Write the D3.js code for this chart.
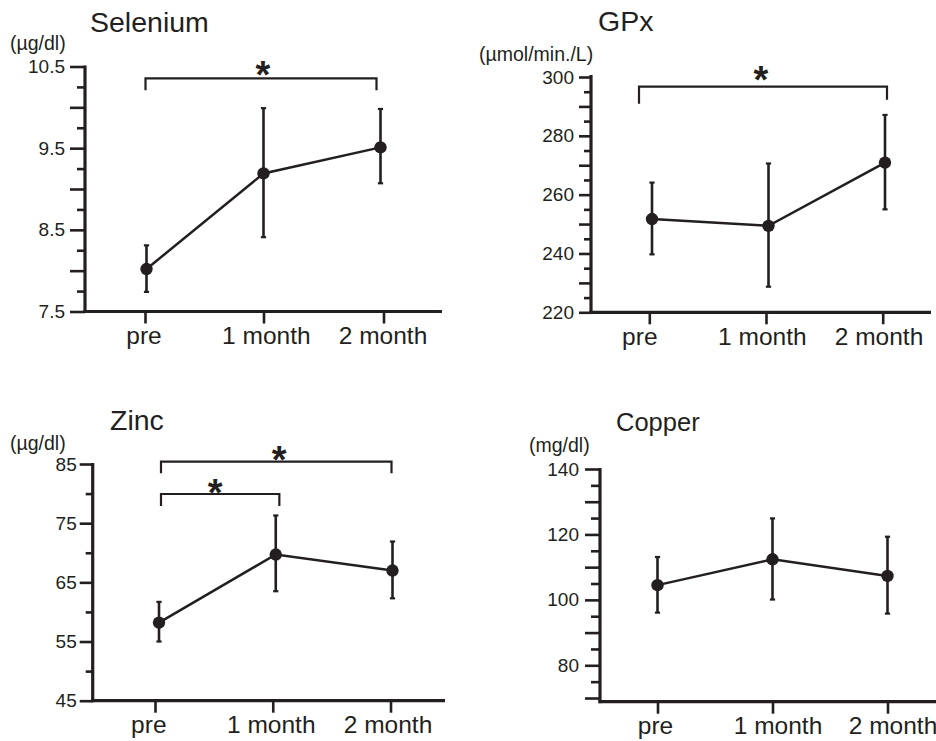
<!DOCTYPE html>
<html>
<head>
<meta charset="utf-8">
<script src="https://cdn.jsdelivr.net/npm/d3@7"></script>
<style>
  body { margin: 0; background: #fff; }
  text { font-family: "Liberation Sans", Arial, Helvetica, sans-serif; fill: #231f20; }
</style>
</head>
<body>
<script>
"use strict";

// shared categories on every x axis
var categories = ["pre", "1 month", "2 month"];

// selenium (ug/dl), mean with upper / lower end of the error bar
var seleniumMean = [8.02, 9.19, 9.51];
var seleniumUpper = [8.31, 9.99, 9.98];
var seleniumLower = [7.74, 8.41, 9.07];
var seleniumLabels = [7.5, 8.5, 9.5, 10.5];
var seleniumSig = [[0, 2]];

// GPx (umol/min./L)
var gpxMean = [251.7, 249.4, 270.9];
var gpxUpper = [264.1, 270.6, 287.1];
var gpxLower = [239.7, 228.7, 255.0];
var gpxLabels = [220, 240, 260, 280, 300];
var gpxSig = [[0, 2]];

// zinc (ug/dl)
var zincMean = [58.2, 69.7, 67.0];
var zincUpper = [61.7, 76.3, 71.9];
var zincLower = [55.0, 63.5, 62.3];
var zincLabels = [45, 55, 65, 75, 85];
var zincSig = [[0, 2], [0, 1]];

// copper (mg/dl)
var copperMean = [104.5, 112.4, 107.3];
var copperUpper = [113.1, 124.9, 119.3];
var copperLower = [96.1, 100.1, 95.8];
var copperLabels = [80, 100, 120, 140];
var copperSig = [];

var svg = d3.select("body").append("svg")
  .attr("width", 936)
  .attr("height", 741);

function drawPanel(p) {
  var g = svg.append("g");

  var x = d3.scalePoint().domain(categories).range(p.xRange);
  var y = d3.scaleLinear().domain(p.yDomain).range(p.yRange);

  // title and unit
  g.append("text")
    .attr("x", p.titleX).attr("y", p.titleY)
    .style("font-size", p.titleSize + "px")
    .text(p.title);
  g.append("text")
    .attr("x", p.unitX).attr("y", p.unitY)
    .style("font-size", "19.5px")
    .text(p.unit);

  // minor ticks
  var minorAxis = d3.axisLeft(y)
    .tickValues(p.minor)
    .tickSize(p.shortTick)
    .tickFormat("");
  var gMinor = g.append("g")
    .attr("transform", "translate(" + p.axisX + ",0)")
    .call(minorAxis);
  gMinor.select(".domain").remove();

  // long ticks, labelled every other one
  var majorAxis = d3.axisLeft(y)
    .tickValues(p.major)
    .tickSize(p.longTick)
    .tickPadding(p.pad)
    .tickFormat(function(d) {
      return p.labels.indexOf(d) >= 0 ? d : "";
    });
  var gMajor = g.append("g")
    .attr("transform", "translate(" + p.axisX + ",0)")
    .call(majorAxis);
  gMajor.select(".domain").remove();

  g.selectAll(".tick line")
    .attr("stroke", "#231f20")
    .attr("stroke-width", 2.6);
  g.selectAll(".tick text")
    .style("font-size", "19px")
    .attr("fill", "#231f20");

  // x axis ticks + labels
  var xAxis = d3.axisBottom(x)
    .tickSize(12)
    .tickPadding(3);
  var gx = g.append("g")
    .attr("transform", "translate(0," + p.axisBottom + ")")
    .call(xAxis);
  gx.select(".domain").remove();
  gx.selectAll("line")
    .attr("stroke", "#231f20")
    .attr("stroke-width", 2.6)
    .attr("x1", function(d, i) { return p.tickDx[i]; })
    .attr("x2", function(d, i) { return p.tickDx[i]; });
  gx.selectAll("text")
    .style("font-size", "24.5px")
    .attr("fill", "#231f20")
    .attr("x", function(d, i) { return p.labelDx[i]; });

  // axis lines
  g.append("line")
    .attr("x1", p.axisX).attr("x2", p.axisX)
    .attr("y1", p.axisTop - 1).attr("y2", p.axisBottom + 1.5)
    .attr("stroke", "#231f20").attr("stroke-width", 3.2);
  g.append("line")
    .attr("x1", p.axisX - 1.5).attr("x2", p.xEnd)
    .attr("y1", p.axisBottom).attr("y2", p.axisBottom)
    .attr("stroke", "#231f20").attr("stroke-width", 3.2);

  // significance brackets
  p.sig.forEach(function(s, i) {
    var b = p.brackets[i];
    var x1 = x(categories[s[0]]) + b.dx[0];
    var x2 = x(categories[s[1]]) + b.dx[1];
    g.append("path")
      .attr("d", "M" + x1 + "," + (b.y + b.drop[0]) + "V" + b.y + "H" + x2 + "V" + (b.y + b.drop[1]))
      .attr("fill", "none")
      .attr("stroke", "#231f20")
      .attr("stroke-width", 2.2);
    var fs = 38;
    g.append("text")
      .attr("x", (x1 + x2) / 2 + b.starDx)
      .attr("y", b.y - b.starGap + 0.576 * fs)
      .attr("text-anchor", "middle")
      .style("font-size", fs + "px")
      .style("font-weight", "bold")
      .text("*");
  });

  var rows = categories.map(function(c, i) {
    return { cat: c, mean: p.mean[i], hi: p.upper[i], lo: p.lower[i] };
  });

  // error bars
  var eb = g.selectAll(".eb").data(rows).enter().append("g").attr("class", "eb");
  eb.append("line")
    .attr("x1", function(d) { return x(d.cat); })
    .attr("x2", function(d) { return x(d.cat); })
    .attr("y1", function(d) { return y(d.hi); })
    .attr("y2", function(d) { return y(d.lo); })
    .attr("stroke", "#231f20").attr("stroke-width", 2.6);
  eb.selectAll(".cap")
    .data(function(d) { return [d.hi, d.lo].map(function(v) { return { cat: d.cat, v: v }; }); })
    .enter().append("line")
    .attr("x1", function(d) { return x(d.cat) - 2.6; })
    .attr("x2", function(d) { return x(d.cat) + 2.6; })
    .attr("y1", function(d) { return y(d.v); })
    .attr("y2", function(d) { return y(d.v); })
    .attr("stroke", "#231f20").attr("stroke-width", 2.2);

  // mean line and dots
  var line = d3.line()
    .x(function(d) { return x(d.cat); })
    .y(function(d) { return y(d.mean); });
  g.append("path")
    .datum(rows)
    .attr("d", line)
    .attr("fill", "none")
    .attr("stroke", "#231f20")
    .attr("stroke-width", 2.5);
  g.selectAll(".dot").data(rows).enter().append("circle")
    .attr("cx", function(d) { return x(d.cat); })
    .attr("cy", function(d) { return y(d.mean); })
    .attr("r", 6.2)
    .attr("fill", "#231f20");
}

drawPanel({
  title: "Selenium", titleX: 90, titleY: 32, titleSize: 28.5,
  unit: "(\u00b5g/dl)", unitX: 10, unitY: 50,
  mean: seleniumMean, upper: seleniumUpper, lower: seleniumLower,
  labels: seleniumLabels,
  major: d3.range(7.5, 10.51, 0.5).map(function(v) { return +v.toFixed(2); }),
  minor: d3.range(7.75, 10.5, 0.5).map(function(v) { return +v.toFixed(2); }),
  yDomain: [7.5, 10.5], yRange: [311.5, 66.5],
  xRange: [146.5, 380.5],
  tickDx: [-1.5, 0, 3], labelDx: [-3, 2.3, 2],
  axisX: 85, axisTop: 66.5, axisBottom: 311.5, xEnd: 442,
  longTick: 15, shortTick: 8, pad: 5,
  sig: seleniumSig,
  brackets: [{ y: 78.3, drop: [12, 12], dx: [-1, -4], starGap: 12.5, starDx: 2 }]
});

drawPanel({
  title: "GPx", titleX: 598, titleY: 31, titleSize: 28.5,
  unit: "(\u00b5mol/min./L)", unitX: 479, unitY: 61,
  mean: gpxMean, upper: gpxUpper, lower: gpxLower,
  labels: gpxLabels,
  major: d3.range(220, 301, 10),
  minor: d3.range(225, 300, 10),
  yDomain: [220, 300], yRange: [312.3, 77],
  xRange: [652, 885],
  tickDx: [-2.7, -2.5, -2.3], labelDx: [-12.7, -6.7, -6.5],
  axisX: 591, axisTop: 76, axisBottom: 312.3, xEnd: 931,
  longTick: 12, shortTick: 7, pad: 5,
  sig: gpxSig,
  brackets: [{ y: 86.7, drop: [17, 13], dx: [-13, 2], starGap: 16, starDx: -2 }]
});

drawPanel({
  title: "Zinc", titleX: 110, titleY: 430, titleSize: 28.5,
  unit: "(\u00b5g/dl)", unitX: 10, unitY: 450,
  mean: zincMean, upper: zincUpper, lower: zincLower,
  labels: zincLabels,
  major: d3.range(45, 86, 10),
  minor: d3.range(50, 85, 10),
  yDomain: [45, 85], yRange: [700.7, 464],
  xRange: [159, 392.5],
  tickDx: [-4, -3, -2], labelDx: [-10.7, -5, -5],
  axisX: 92.7, axisTop: 464, axisBottom: 700.7, xEnd: 445,
  longTick: 13, shortTick: 7, pad: 3,
  sig: zincSig,
  brackets: [
    { y: 461.7, drop: [11.6, 11.6], dx: [2, -1], starGap: 11, starDx: 3 },
    { y: 494, drop: [12, 12], dx: [2, 3.6], starGap: 10, starDx: -5 }
  ]
});

drawPanel({
  title: "Copper", titleX: 616, titleY: 431, titleSize: 25.5,
  unit: "(mg/dl)", unitX: 529, unitY: 452,
  mean: copperMean, upper: copperUpper, lower: copperLower,
  labels: copperLabels,
  major: d3.range(70, 141, 10),
  minor: d3.range(75, 140, 10),
  yDomain: [80, 140], yRange: [665.3, 469],
  xRange: [657.5, 887.5],
  tickDx: [0, 0, 0], labelDx: [-2.5, 5, 5],
  axisX: 600, axisTop: 469, axisBottom: 701.7, xEnd: 936,
  longTick: 15, shortTick: 9, pad: 6,
  sig: copperSig,
  brackets: []
});
</script>
</body>
</html>
